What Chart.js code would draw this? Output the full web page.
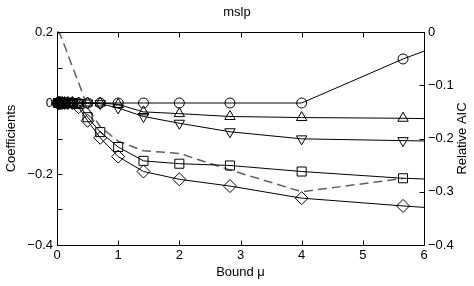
<!DOCTYPE html>
<html>
<head>
<meta charset="utf-8">
<script src="https://cdn.jsdelivr.net/npm/chart.js@4.4.0/dist/chart.umd.min.js"></script>
<style>
  body { margin: 0; background: #fff; }
  canvas { display: block; }
</style>
</head>
<body>
<canvas id="mslpChart" width="474" height="286"></canvas>
<script>
// bound values (sqrt(2) steps), last one is the axis end without marker
const bounds = [0.0156, 0.0221, 0.0313, 0.0442, 0.0625, 0.0884, 0.125, 0.177, 0.25, 0.354, 0.5, 0.707, 1, 1.414, 2, 2.828, 4, 5.657, 6];

const coefCircle   = [0, 0, 0, 0, 0, 0, 0, 0, 0, 0, 0, 0, 0, 0, 0, 0, 0, 0.124, 0.146];
const coefTriangle = [0, 0, 0, 0, 0, 0, 0, 0, 0, 0, 0, 0, -0.004, -0.025, -0.030, -0.038, -0.041, -0.043, -0.044];
const coefDown     = [0, 0, 0, 0, 0, 0, 0, 0, 0, 0, 0, -0.002, -0.014, -0.038, -0.057, -0.081, -0.101, -0.106, -0.107];
const coefSquare   = [0, 0, 0, 0, 0, 0, 0, 0, 0, -0.003, -0.040, -0.082, -0.124, -0.163, -0.171, -0.176, -0.193, -0.212, -0.214];
const coefDiamond  = [0, 0, 0, 0, 0, 0, 0, 0, 0, -0.012, -0.050, -0.098, -0.151, -0.193, -0.215, -0.234, -0.268, -0.290, -0.294];

const aicBounds = [0, 0.0156, 0.0221, 0.0313, 0.0442, 0.0625, 0.0884, 0.125, 0.177, 0.25, 0.354, 0.5, 0.707, 1, 1.414, 2, 2.828, 4, 5.657];
const relAIC    = [0, 0, -0.001, -0.002, -0.003, -0.008, -0.016, -0.026, -0.042, -0.065, -0.095, -0.142, -0.178, -0.205, -0.223, -0.228, -0.259, -0.300, -0.275];

const xTicks = [0, 1, 2, 3, 4, 5, 6];

const FONT = "'Liberation Sans', Arial, Helvetica, sans-serif";

function pts(xs, ys) {
    return xs.map((x, i) => ({ x: x, y: ys[i] }));
}

function coefSet(values, style, radius, rotation) {
    return {
        data: pts(bounds, values),
        yAxisID: "y",
        showLine: true,
        borderColor: "#000",
        borderWidth: 1,
        pointStyle: style,
        pointRotation: rotation || 0,
        pointRadius: bounds.map(b => b === 6 ? 0 : radius),
        pointHoverRadius: 0,
        pointBorderColor: "#000",
        pointBorderWidth: 1,
        pointBackgroundColor: "rgba(0,0,0,0)",
        clip: false
    };
}

function minus(v) {
    const r = Math.round(v * 10) / 10;
    return String(r).replace("-", "\u2212");
}

// MATLAB style frame with inward ticks, plus right title read bottom-up
const framePlugin = {
    id: "frame",
    afterDraw(chart) {
        const ctx = chart.ctx;
        const a = chart.chartArea;
        const L = Math.round(a.left) + 0.5, R = Math.round(a.right) + 0.5;
        const T = Math.round(a.top) + 0.5, B = Math.round(a.bottom) + 0.5;
        const len = 5;
        ctx.save();
        ctx.strokeStyle = "#000";
        ctx.lineWidth = 1;
        ctx.beginPath();
        ctx.rect(L, T, R - L, B - T);
        chart.scales.x.ticks.forEach(t => {
            const px = Math.round(chart.scales.x.getPixelForValue(t.value)) + 0.5;
            ctx.moveTo(px, B); ctx.lineTo(px, B - len);
            ctx.moveTo(px, T); ctx.lineTo(px, T + len);
        });
        chart.scales.y.ticks.forEach(t => {
            const py = Math.round(chart.scales.y.getPixelForValue(t.value)) + 0.5;
            ctx.moveTo(L, py); ctx.lineTo(L + len, py);
        });
        chart.scales.y1.ticks.forEach(t => {
            const py = Math.round(chart.scales.y1.getPixelForValue(t.value)) + 0.5;
            ctx.moveTo(R, py); ctx.lineTo(R - len, py);
        });
        ctx.stroke();

        ctx.translate(chart.width - 12, (a.top + a.bottom) / 2);
        ctx.rotate(-Math.PI / 2);
        ctx.fillStyle = "#000";
        ctx.font = "13px " + FONT;
        ctx.textAlign = "center";
        ctx.textBaseline = "middle";
        ctx.fillText("Relative AIC", 0, 0);
        ctx.restore();
    }
};

Chart.defaults.font.family = FONT;
Chart.defaults.font.size = 13;
Chart.defaults.color = "#000";

new Chart(document.getElementById("mslpChart").getContext("2d"), {
    type: "scatter",
    data: {
        datasets: [
            coefSet(coefCircle, "circle", 5),
            coefSet(coefTriangle, "triangle", 6),
            coefSet(coefDown, "triangle", 6, 180),
            coefSet(coefSquare, "rect", 6.4),
            coefSet(coefDiamond, "rectRot", 6.5),
            {
                data: pts(aicBounds, relAIC),
                yAxisID: "y1",
                showLine: true,
                borderColor: "#5f5f5f",
                borderWidth: 1.5,
                borderDash: [9, 5],
                pointRadius: 0,
                pointHoverRadius: 0,
                clip: false
            }
        ]
    },
    options: {
        responsive: false,
        animation: false,
        events: [],
        layout: { padding: 0 },
        plugins: {
            legend: { display: false },
            tooltip: { enabled: false },
            title: {
                display: true,
                text: "mslp",
                font: { size: 13, weight: "normal" },
                padding: { top: 5, bottom: 11.4 }
            }
        },
        scales: {
            x: {
                type: "linear",
                min: 0,
                max: 6,
                afterBuildTicks: s => { s.ticks = xTicks.map(v => ({ value: v })); },
                afterFit: s => { s.height = 41; },
                grid: { display: false, drawTicks: false },
                border: { display: false },
                ticks: { padding: 3, maxRotation: 0, callback: v => String(v) },
                title: { display: true, text: "Bound \u03bc", padding: { top: 0, bottom: 6 } }
            },
            y: {
                type: "linear",
                position: "left",
                min: -0.4,
                max: 0.2,
                afterFit: s => { s.width = 57; },
                grid: { display: false, drawTicks: false },
                border: { display: false },
                ticks: {
                    stepSize: 0.1,
                    padding: 4,
                    callback: v => (Math.round(v * 10) % 2 === 0 ? minus(v) : "")
                },
                title: { display: true, text: "Coefficients", padding: { top: 4, bottom: 0 } }
            },
            y1: {
                type: "linear",
                position: "right",
                min: -0.4,
                max: 0,
                afterFit: s => { s.width = 50; },
                grid: { display: false, drawTicks: false },
                border: { display: false },
                ticks: { stepSize: 0.1, padding: 4, callback: v => minus(v) },
                title: { display: false }
            }
        }
    },
    plugins: [framePlugin]
});
</script>
</body>
</html>
